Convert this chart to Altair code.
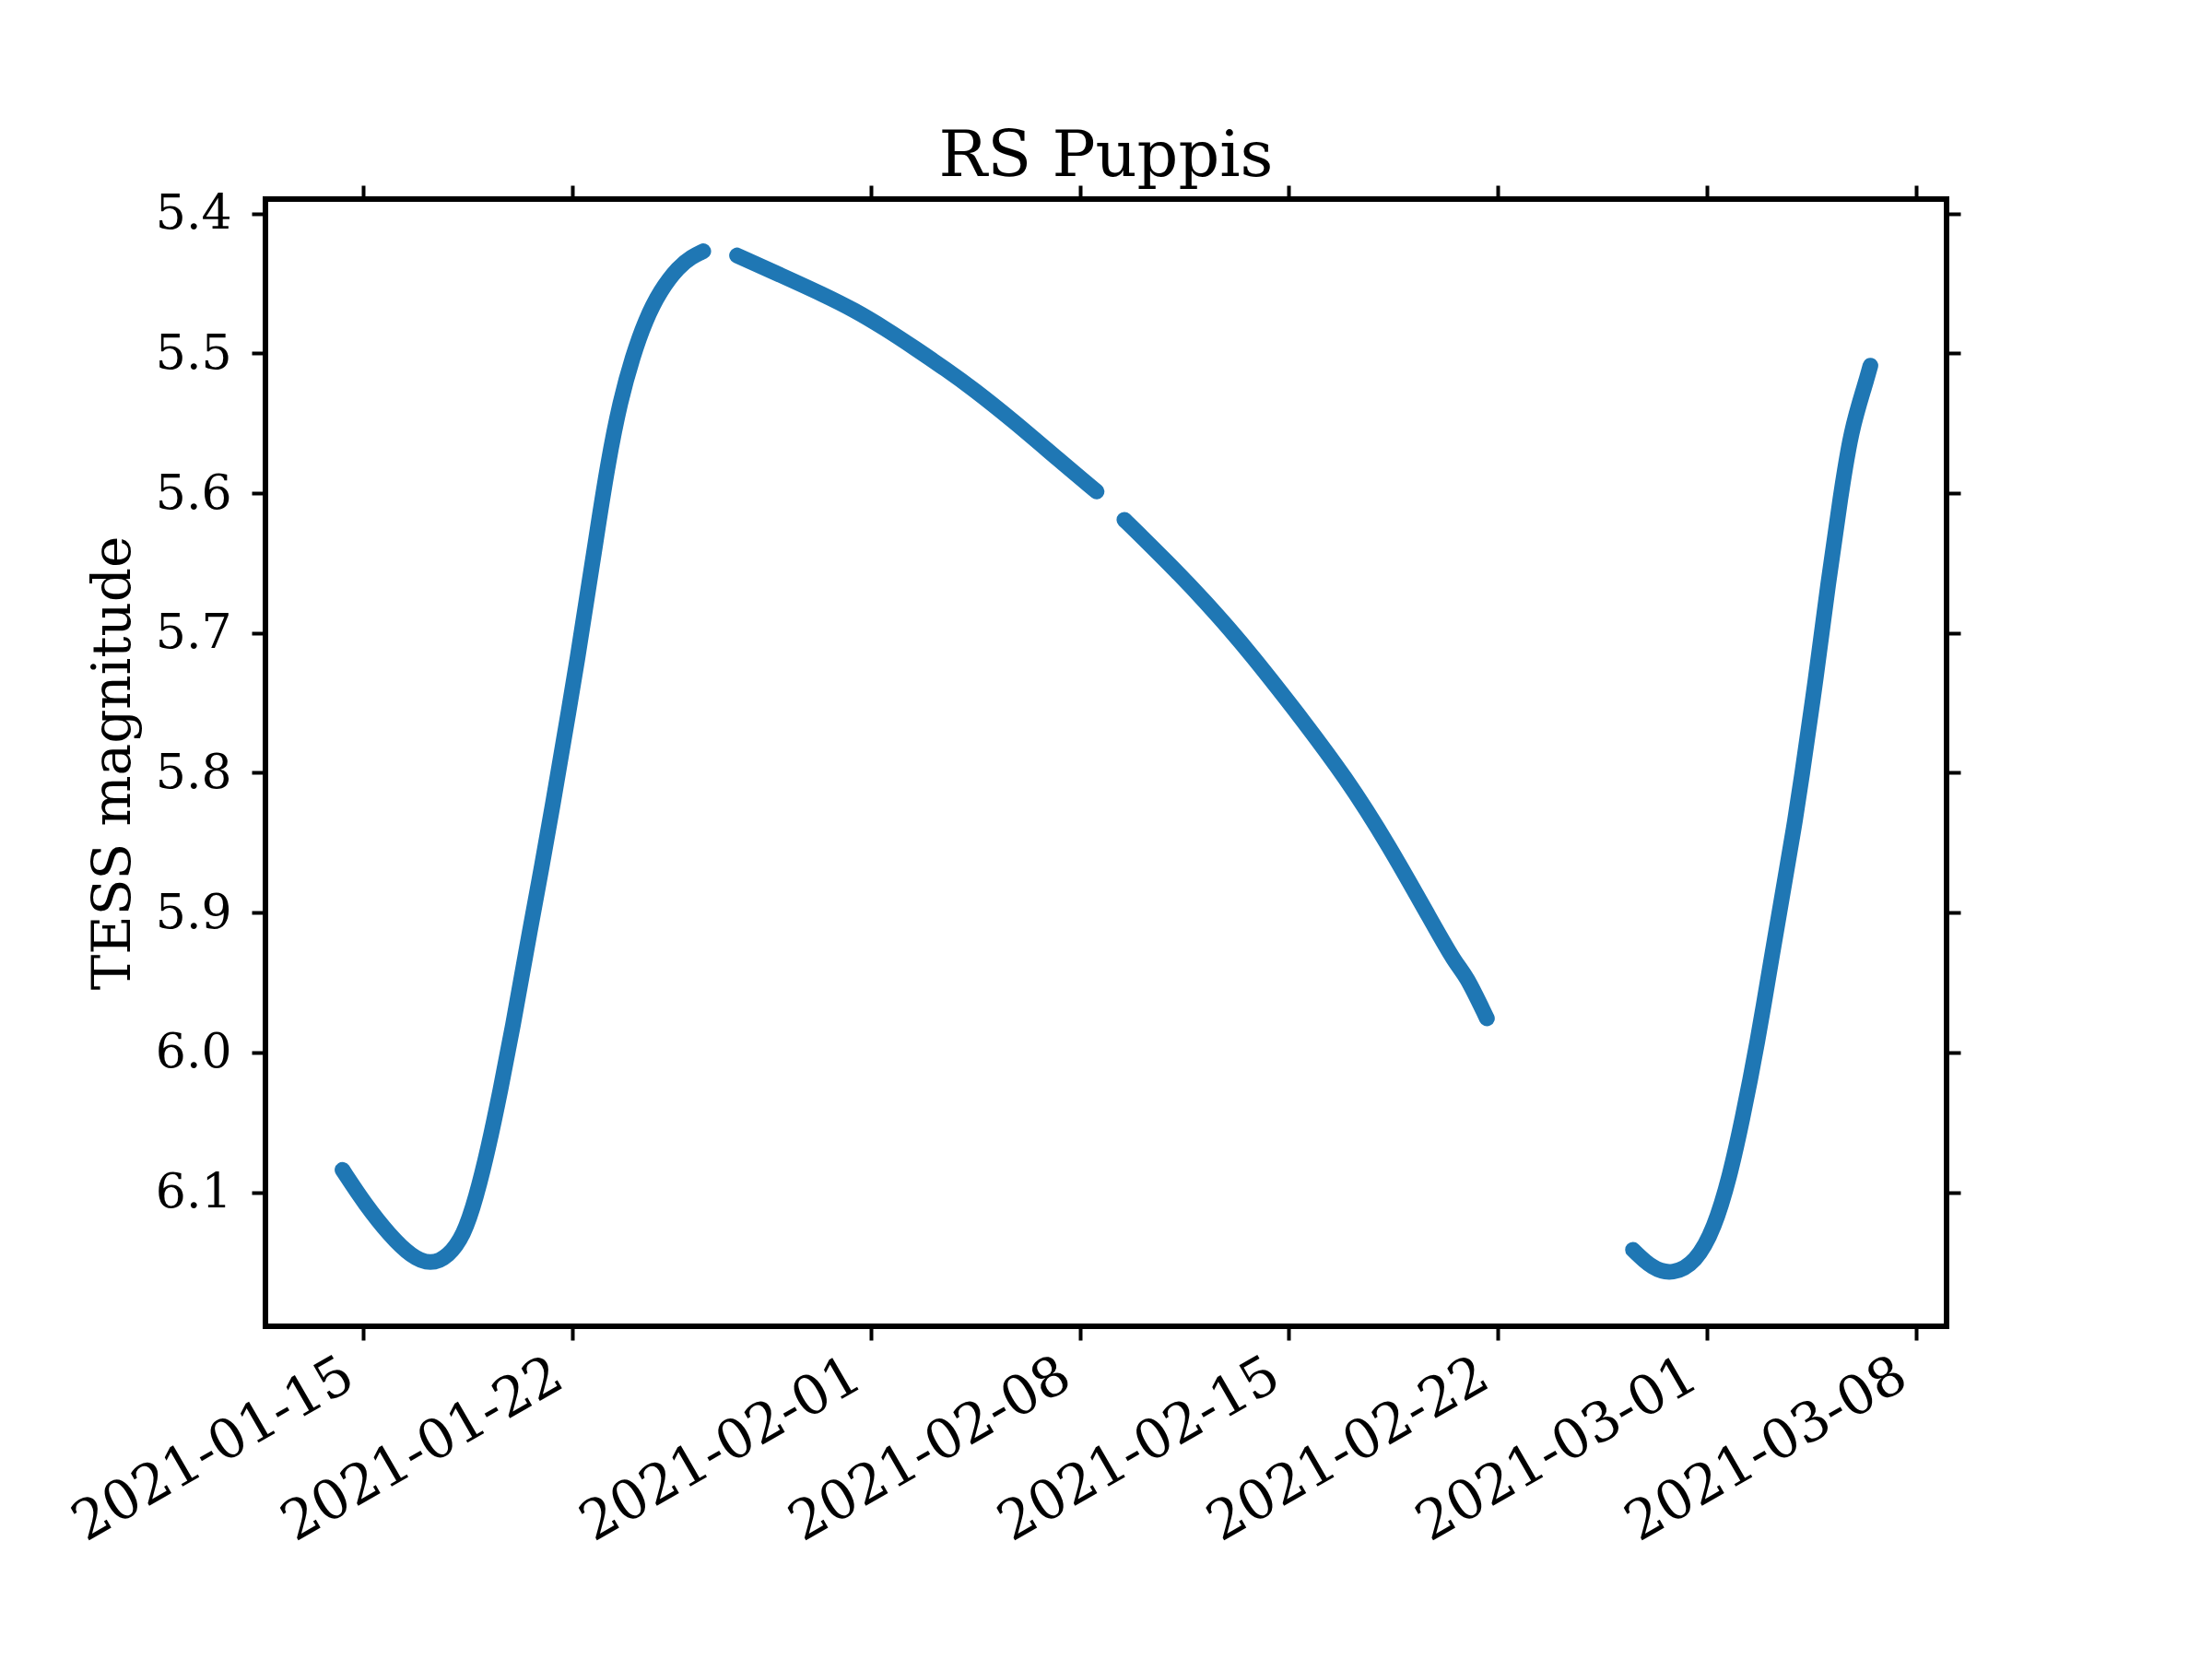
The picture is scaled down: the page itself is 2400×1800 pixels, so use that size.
import altair as alt
import pandas as pd

# Light-curve segments: days relative to 2021-01-22 00:00 UTC, TESS magnitude
seg1_days = [-7.69, -6.92, -6.10, -5.38, -4.74, -4.15, -3.63, -3.22, -2.81, -2.40,
             -1.98, -1.57, -1.06, -0.76, 0.26, 0.79, 1.20, 1.61, 2.03, 2.44,
             2.95, 3.57, 4.00, 4.39]
seg1_mag = [6.084, 6.109, 6.131, 6.146, 6.152, 6.146, 6.131, 6.104, 6.069, 6.027,
            5.981, 5.931, 5.872, 5.837, 5.709, 5.634, 5.578, 5.534, 5.502, 5.477,
            5.455, 5.438, 5.431, 5.427]

seg2_days = [5.52, 6.97, 8.41, 9.44, 10.46, 11.49, 12.52, 13.40, 14.78, 16.33, 17.56]
seg2_mag = [5.430, 5.444, 5.458, 5.469, 5.482, 5.4965, 5.5115, 5.525, 5.5484, 5.5769, 5.5989]

seg3_days = [18.49, 18.90, 20.45, 21.16, 21.99, 22.81, 23.63, 24.35, 25.90, 27.34,
             28.78, 29.60, 29.91, 30.63]
seg3_mag = [5.6191, 5.6275, 5.6605, 5.6769, 5.6966, 5.7175, 5.7396, 5.7593, 5.8032, 5.8516,
            5.9065, 5.9373, 5.9439, 5.9757]

seg4_days = [35.52, 36.18, 36.85, 37.62, 38.24, 38.76, 39.17, 39.68, 40.19, 40.61,
             40.92, 41.14, 41.66, 42.05, 42.48, 42.82, 43.30, 43.47]
seg4_mag = [6.1412, 6.1549, 6.1588, 6.1504, 6.1262, 6.0889, 6.0494, 5.9944, 5.9285, 5.8765,
            5.8380, 5.8076, 5.7307, 5.6648, 5.6011, 5.5550, 5.5220, 5.5088]

x_tick_labels = ["2021-01-15", "2021-01-22", "2021-02-01", "2021-02-08",
                 "2021-02-15", "2021-02-22", "2021-03-01", "2021-03-08"]
y_tick_values = [5.4, 5.5, 5.6, 5.7, 5.8, 5.9, 6.0, 6.1]

base = pd.Timestamp("2021-01-22")
epoch = pd.Timestamp("1970-01-01")


def to_ms(ts):
    return (ts - epoch) / pd.Timedelta(milliseconds=1)


rows = []
for name, days, mags in [("s1", seg1_days, seg1_mag), ("s2", seg2_days, seg2_mag),
                         ("s3", seg3_days, seg3_mag), ("s4", seg4_days, seg4_mag)]:
    for d, m in zip(days, mags):
        rows.append({"t": to_ms(base + pd.Timedelta(days=d)), "mag": m, "seg": name})
df = pd.DataFrame(rows)

x_ticks_ms = [to_ms(pd.Timestamp(s)) for s in x_tick_labels]
x_dom = [to_ms(base + pd.Timedelta(days=-10.27)), to_ms(base + pd.Timedelta(days=46.02))]
y_dom = [5.3897, 6.1959]

FONT = "DejaVu Serif"
x_scale = alt.Scale(type="utc", domain=x_dom, nice=False)
y_scale = alt.Scale(domain=y_dom, reverse=True, nice=False, zero=False)

common_axis = dict(domain=False, grid=False, tickColor="black", tickWidth=4, tickSize=15,
                   labelFont=FONT, labelColor="black", labelLimit=2000)

main = alt.Chart(df).mark_line(
    color="#1f77b4", strokeWidth=17, strokeCap="round", strokeJoin="round",
    interpolate="basis"
).encode(
    x=alt.X("t:T", scale=x_scale,
            axis=alt.Axis(values=x_ticks_ms, format="%Y-%m-%d", labelAngle=-30,
                          labelAlign="right", labelBaseline="top", labelPadding=8,
                          labelOffset=-30, labelFontSize=59,
                          labelOverlap=False, labelFlush=False, title=None,
                          orient="bottom", **common_axis)),
    y=alt.Y("mag:Q", scale=y_scale,
            axis=alt.Axis(values=y_tick_values, format=".1f", labelPadding=22,
                          labelFontSize=52,
                          title="TESS magnitude", titleFont=FONT, titleFontSize=58,
                          titleFontWeight="normal", titleColor="black", titlePadding=16,
                          orient="left", **common_axis)),
    detail="seg:N",
)

ghost = alt.Chart(df).mark_point(opacity=0).encode(
    x=alt.X("t:T", scale=x_scale,
            axis=alt.Axis(values=x_ticks_ms, labels=False, title=None, orient="top",
                          **common_axis)),
    y=alt.Y("mag:Q", scale=y_scale,
            axis=alt.Axis(values=y_tick_values, labels=False, title=None, orient="right",
                          **common_axis)),
)

chart = alt.layer(main, ghost).resolve_axis(x="independent", y="independent").properties(
    width=1824, height=1223,
    padding={"left": 280, "top": 208, "right": 280, "bottom": 353},
    autosize=alt.AutoSizeParams(type="none"),
    title=alt.TitleParams("RS Puppis", font=FONT, fontSize=70, fontWeight="normal",
                          color="black", anchor="middle", frame="group",
                          baseline="alphabetic", offset=-62),
).configure(background="white").configure_view(stroke="black", strokeWidth=6)

chart.save("out.html", embed_options={"renderer": "svg", "actions": False})
